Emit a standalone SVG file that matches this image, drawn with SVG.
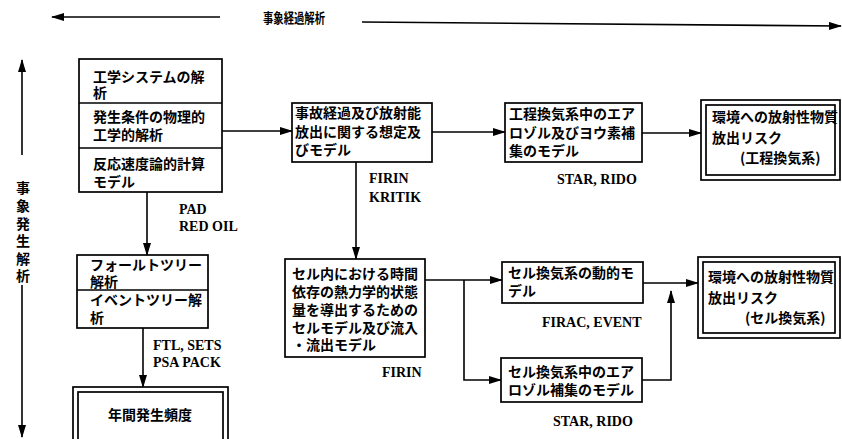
<svg xmlns="http://www.w3.org/2000/svg" width="842" height="439" viewBox="0 0 842 439">
<style>
.bg{fill:#fff}
.box{fill:#fff;stroke:#000;stroke-width:1.7}
.div{stroke:#000;stroke-width:1.5}
.ln{fill:none;stroke:#000;stroke-width:1.6}
.jp{font-family:"Noto Sans CJK JP","Noto Sans CJK SC",sans-serif;font-size:14px;font-weight:bold;fill:#000}
.lat{font-family:"Liberation Serif",serif;font-size:14px;font-weight:bold;fill:#000}
.vt{writing-mode:vertical-rl;letter-spacing:3.6px}
</style>
<defs>
<marker id="ah" markerUnits="userSpaceOnUse" markerWidth="13" markerHeight="8" refX="12" refY="4" orient="auto">
<path d="M0,0 L13,4 L0,8 z" fill="#000"/>
</marker>
</defs>
<rect class="bg" x="0" y="0" width="842" height="439"/>
<g id="axes">
<text class="jp" x="263" y="23" font-size="13" textLength="62" lengthAdjust="spacingAndGlyphs">事象経過解析</text>
<text class="jp vt" x="23" y="181" font-size="13">事象発生解析</text>
</g>
<g id="connectors">
<line class="ln" x1="220" y1="17" x2="52" y2="17" marker-end="url(#ah)"/>
<line class="ln" x1="362" y1="22" x2="841" y2="26" marker-end="url(#ah)"/>
<line class="ln" x1="22" y1="155" x2="22" y2="60" marker-end="url(#ah)"/>
<line class="ln" x1="22" y1="285" x2="22" y2="437" marker-end="url(#ah)"/>
<line class="ln" x1="222" y1="131" x2="292" y2="131" marker-end="url(#ah)"/>
<line class="ln" x1="147" y1="192" x2="147" y2="255" marker-end="url(#ah)"/>
<line class="ln" x1="143" y1="328" x2="143" y2="387" marker-end="url(#ah)"/>
<line class="ln" x1="432" y1="132" x2="505" y2="132" marker-end="url(#ah)"/>
<line class="ln" x1="356" y1="162" x2="356" y2="259" marker-end="url(#ah)"/>
<line class="ln" x1="642" y1="133" x2="701" y2="133" marker-end="url(#ah)"/>
<line class="ln" x1="425" y1="280" x2="502" y2="280" marker-end="url(#ah)"/>
<path class="ln" d="M464,280 V380 H501" marker-end="url(#ah)"/>
<line class="ln" x1="643" y1="283" x2="698" y2="283" marker-end="url(#ah)"/>
<path class="ln" d="M642,380 H671 V291" marker-end="url(#ah)"/>
</g>
<g id="n-engineering">
<rect class="box" x="79" y="59" width="143" height="133"/>
<line class="div" x1="79" y1="103" x2="222" y2="103"/>
<line class="div" x1="79" y1="148" x2="222" y2="148"/>
<text class="jp" x="93" y="82">工学システムの解</text>
<text class="jp" x="93" y="98">析</text>
<text class="jp" x="93" y="122">発生条件の物理的</text>
<text class="jp" x="93" y="140">工学的解析</text>
<text class="jp" x="93" y="169">反応速度論的計算</text>
<text class="jp" x="93" y="187">モデル</text>
<text class="lat" x="179" y="214">PAD</text>
<text class="lat" x="179" y="231">RED OIL</text>
</g>
<g id="n-tree">
<rect class="box" x="77" y="255" width="131" height="73"/>
<line class="div" x1="77" y1="290" x2="208" y2="290"/>
<text class="jp" x="90" y="270">フォールトツリー</text>
<text class="jp" x="90" y="287">解析</text>
<text class="jp" x="90" y="305">イベントツリー解</text>
<text class="jp" x="90" y="323">析</text>
<text class="lat" x="153" y="350">FTL, SETS</text>
<text class="lat" x="153" y="367">PSA PACK</text>
</g>
<g id="n-freq">
<rect class="box" x="73" y="387" width="155" height="60"/>
<rect class="box" x="78" y="392" width="145" height="55"/>
<text class="jp" x="150" y="420" text-anchor="middle">年間発生頻度</text>
</g>
<g id="n-accident">
<rect class="box" x="292" y="103" width="140" height="59"/>
<text class="jp" x="295" y="118">事故経過及び放射能</text>
<text class="jp" x="295" y="137">放出に関する想定及</text>
<text class="jp" x="295" y="155">びモデル</text>
<text class="lat" x="369" y="183">FIRIN</text>
<text class="lat" x="369" y="202">KRITIK</text>
</g>
<g id="n-process-aerosol">
<rect class="box" x="505" y="103" width="137" height="59"/>
<text class="jp" x="509" y="119">工程換気系中のエア</text>
<text class="jp" x="509" y="138">ロゾル及びヨウ素補</text>
<text class="jp" x="509" y="156">集のモデル</text>
<text class="lat" x="557" y="184">STAR, RIDO</text>
</g>
<g id="n-risk-process">
<rect class="box" x="701" y="100" width="139" height="80"/>
<rect class="box" x="706" y="105" width="129" height="70"/>
<text class="jp" x="712" y="122">環境への放射性物質</text>
<text class="jp" x="712" y="143">放出リスク</text>
<text class="jp" x="740" y="163">(工程換気系)</text>
</g>
<g id="n-cell">
<rect class="box" x="285" y="259" width="140" height="98"/>
<text class="jp" x="292" y="279">セル内における時間</text>
<text class="jp" x="292" y="297">依存の熱力学的状態</text>
<text class="jp" x="292" y="315">量を導出するための</text>
<text class="jp" x="292" y="333">セルモデル及び流入</text>
<text class="jp" x="292" y="350">・流出モデル</text>
<text class="lat" x="382" y="377">FIRIN</text>
</g>
<g id="n-cell-dynamic">
<rect class="box" x="502" y="262" width="141" height="41"/>
<text class="jp" x="508" y="278">セル換気系の動的モ</text>
<text class="jp" x="508" y="296">デル</text>
<text class="lat" x="542" y="327">FIRAC, EVENT</text>
</g>
<g id="n-cell-aerosol">
<rect class="box" x="501" y="358" width="141" height="44"/>
<text class="jp" x="508" y="377">セル換気系中のエア</text>
<text class="jp" x="508" y="395">ロゾル補集のモデル</text>
<text class="lat" x="553" y="426">STAR, RIDO</text>
</g>
<g id="n-risk-cell">
<rect class="box" x="698" y="257" width="142" height="81"/>
<rect class="box" x="703" y="262" width="132" height="71"/>
<text class="jp" x="708" y="282">環境への放射性物質</text>
<text class="jp" x="708" y="303">放出リスク</text>
<text class="jp" x="745" y="323">(セル換気系)</text>
</g>
</svg>
